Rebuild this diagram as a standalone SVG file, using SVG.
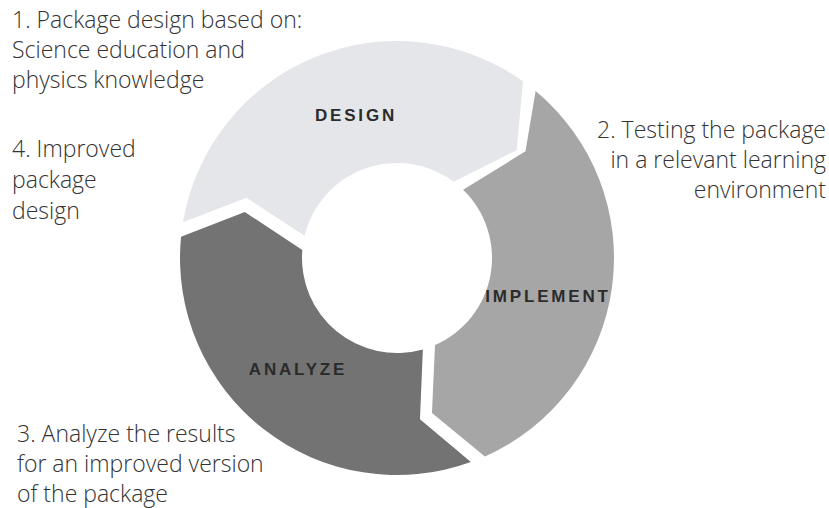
<svg xmlns="http://www.w3.org/2000/svg" width="829" height="508" viewBox="0 0 829 508">
<style>
.seg-label{font-family:"Liberation Sans","DejaVu Sans",sans-serif;font-weight:bold;font-size:17px;letter-spacing:2.8px;fill:#2b2b2b;text-anchor:middle}
.note{font-family:"Open Sans","Liberation Sans",sans-serif;font-weight:300;font-size:23px;fill:#333333}
.right{text-anchor:end}
</style>
<rect width="829" height="508" fill="#ffffff"/>
<g id="node-design">
<path d="M182.97,222.18 A217,217 0 0 1 523.01,81.34 L516.65,150.27 L453.51,181.63 A95,95 0 0 0 304.62,235.82 L246.58,197.84 Z" fill="#e5e6ea"/>
<text class="seg-label" x="356" y="121">DESIGN</text>
</g>
<g id="node-implement">
<path d="M535.61,91.04 A217,217 0 0 1 484.92,456.39 L431.96,413.11 L435.03,345.05 A95,95 0 0 0 463.11,189.78 L525.49,151.33 Z" fill="#a6a6a6"/>
<text class="seg-label" x="548" y="302">IMPLEMENT</text>
</g>
<g id="node-analyze">
<path d="M470.86,462.04 A217,217 0 0 1 181.04,236.83 L244.79,212.04 L302.33,250.05 A95,95 0 0 0 422.87,349.41 L419.97,419.37 Z" fill="#737373"/>
<text class="seg-label" x="298" y="375">ANALYZE</text>
</g>
<g id="connectors"></g>
<g id="note-1">
<text class="note" x="12" y="28">1. Package design based on:</text>
<text class="note" x="12" y="58">Science education and</text>
<text class="note" x="12" y="88">physics knowledge</text>
</g>
<g id="note-2">
<text class="note right" x="826" y="138">2. Testing the package</text>
<text class="note right" x="826" y="168">in a relevant learning</text>
<text class="note right" x="826" y="198">environment</text>
</g>
<g id="note-3">
<text class="note" x="17" y="442">3. Analyze the results</text>
<text class="note" x="17" y="472">for an improved version</text>
<text class="note" x="17" y="502">of the package</text>
</g>
<g id="note-4">
<text class="note" x="12" y="157">4. Improved</text>
<text class="note" x="12" y="188">package</text>
<text class="note" x="12" y="219">design</text>
</g>
</svg>
